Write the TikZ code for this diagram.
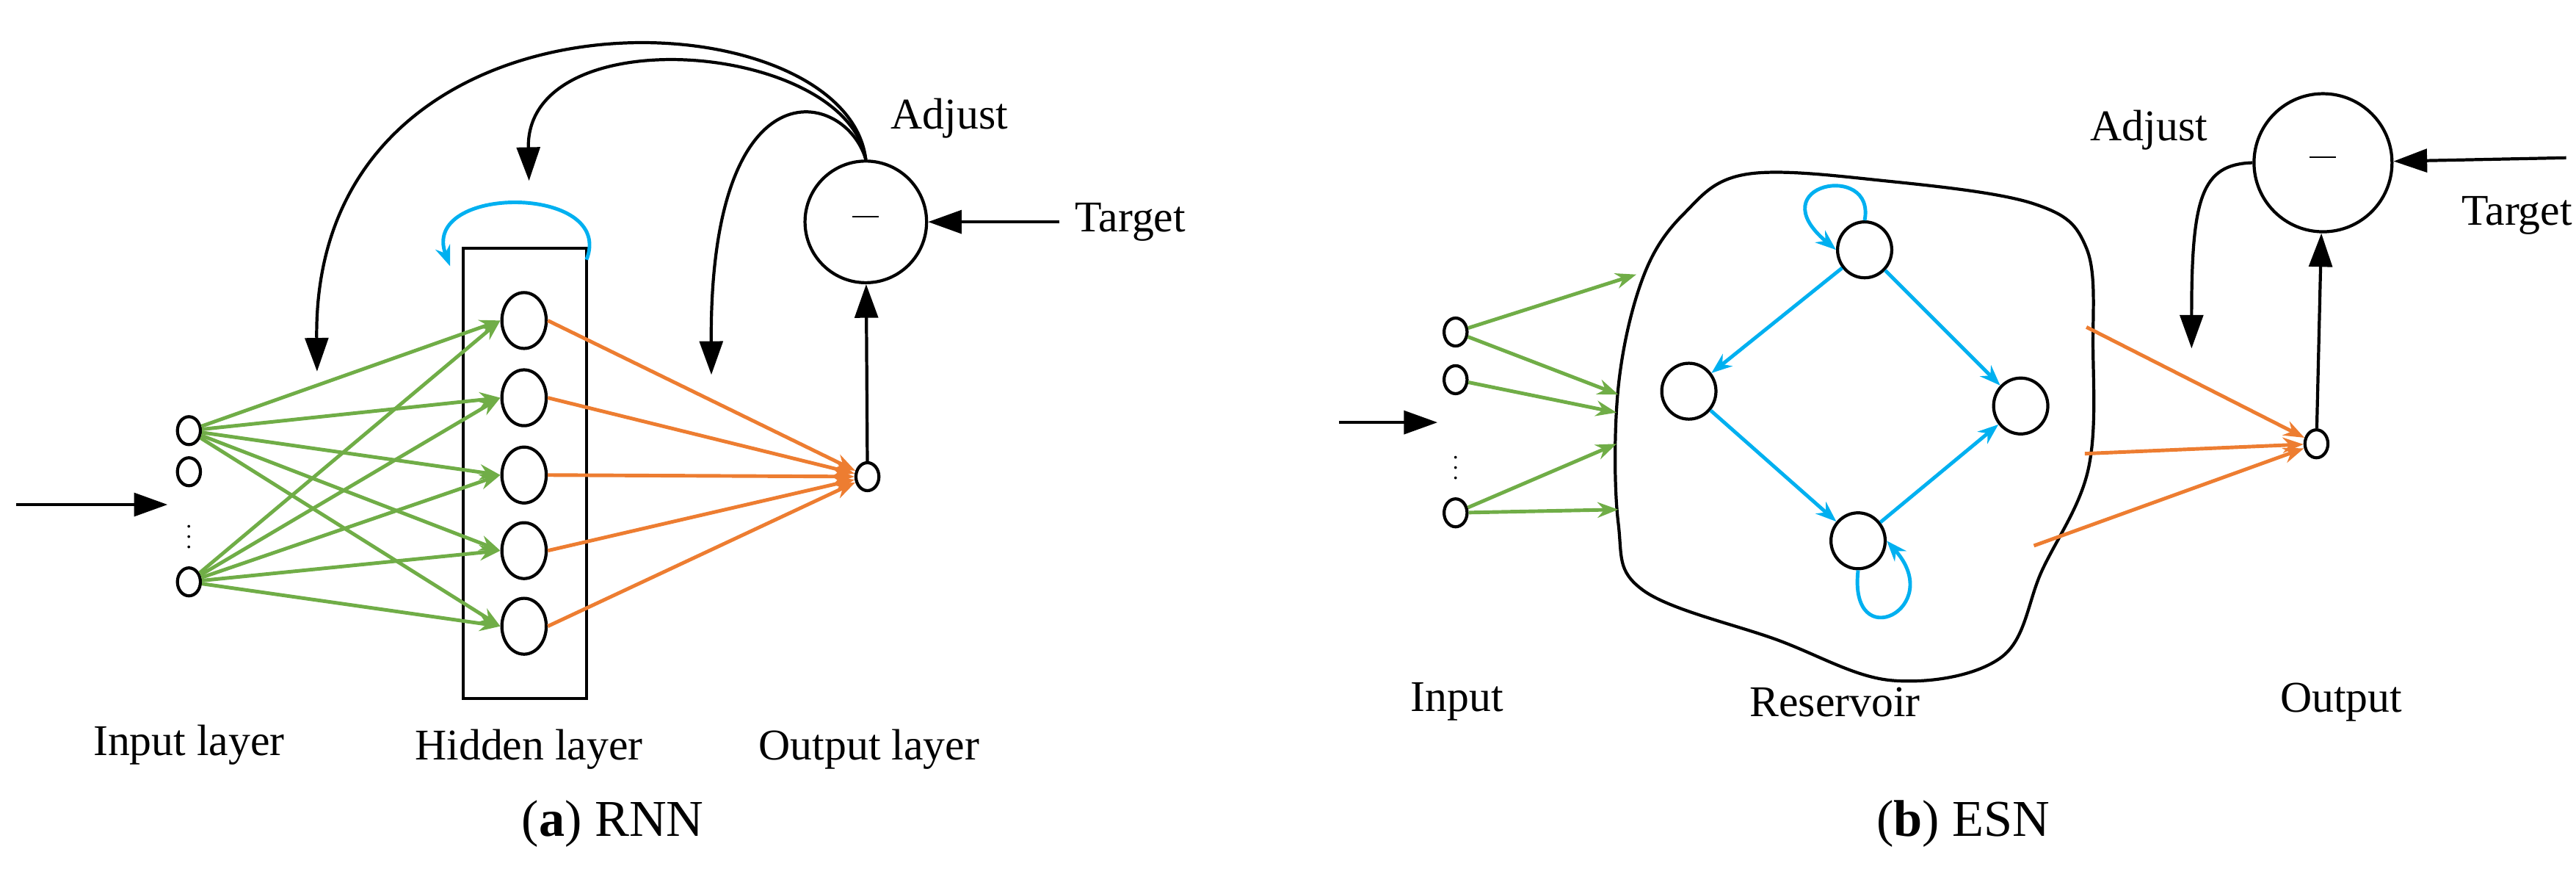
\documentclass[tikz,border=0pt]{standalone}
\usepackage{fontspec}
\setmainfont{Liberation Serif}
\usetikzlibrary{arrows.meta,shapes.geometric}
\def\u{0.02238cm}
\definecolor{gr}{RGB}{112,173,71}
\definecolor{orr}{RGB}{237,125,49}
\definecolor{bl}{RGB}{0,176,240}
\tikzset{
 sn/.style={ellipse,draw,line width=1.2pt,inner sep=0,minimum width=14*\u,minimum height=17*\u},
 hn/.style={ellipse,draw,line width=1.2pt,inner sep=0,minimum width=27*\u,minimum height=34*\u},
 mn/.style={circle,draw,line width=1.2pt,inner sep=0,minimum size=#1*\u,font=\fontsize{17}{20}\selectfont},
 lab/.style={font=\fontsize{17}{20}\selectfont},
 captxt/.style={font=\fontsize{20}{24}\selectfont},
 dts/.style={inner sep=0,font=\fontsize{9}{9}\selectfont},
 ga/.style={gr,line width=1.4pt,-{Stealth[length=8pt,width=6pt]}},
 oa/.style={orr,line width=1.4pt,-{Stealth[length=8pt,width=6pt]}},
 ba/.style={bl,line width=1.4pt,-{Stealth[length=8pt,width=6pt]}},
 ka/.style={black,line width=1.2pt,-{Triangle[length=13pt,width=9pt]}},
}
\begin{document}
\begin{tikzpicture}[x=\u,y=-\u]
\useasboundingbox (0,0) rectangle (1568,540);
% ---------- (a) RNN
\node[sn] (i1) at (115,262) {};
\node[sn] (i2) at (115,287) {};
\node[dts] (d1) at (115,322) {$\vdots$};
\node[sn] (i4) at (115,354) {};
\coordinate (ain) at (10,307);
\coordinate (aine) at (102,307);
\draw[ka] (ain) -- (aine);
\node[draw,line width=1.2pt,minimum width=75*\u,minimum height=274*\u,inner sep=0] (box) at (319.5,288) {};
\foreach \k/\y in {1/195,2/242,3/289,4/335,5/381}{\node[hn] (h\k) at (319,\y) {};}
\node[sn] (o) at (528,290) {};
\foreach \k in {1,...,5}{\draw[ga] (i1) -- (h\k.west); \draw[ga] (i4) -- (h\k.west); \draw[oa] (h\k.east) -- (o);}
\coordinate (lb1) at (357,158);
\coordinate (lb2) at (274,162);
\draw[ba] (lb1) .. controls (375,112) and (255,112) .. (lb2);
\node[mn=74] (m) at (527,135) {\rule[0.25em]{0.6em}{0.6pt}};
\draw[ka] (o) -- (m);
\coordinate (tg) at (645,135);
\draw[ka] (tg) -- (m);
\node[lab] at (688,135) {Target};
\node[lab] at (578,72) {Adjust};
\coordinate (f1) at (193,226);
\coordinate (f2) at (322,110);
\coordinate (f3) at (433,228);
\draw[ka] (m.north) .. controls (515,-5) and (190,-20) .. (f1);
\draw[ka] (m.north) .. controls (515,25) and (320,10) .. (f2);
\draw[ka] (m.north) .. controls (515,55) and (432,35) .. (f3);
\node[lab] at (115,453) {Input layer};
\node[lab] at (322,456) {Hidden layer};
\node[lab] at (529,456) {Output layer};
\node[captxt] at (373,501) {(\textbf{a}) RNN};
% ---------- (b) ESN
\draw[line width=1.2pt] plot[smooth cycle,tension=0.6] coordinates {(1063,106) (1147,110) (1238,124) (1270,151) (1274,211) (1271,286) (1243,347) (1218,400) (1152,414) (1081,389) (1000,359) (985,318) (985,236) (1000,169) (1025,130)};
\node[sn] (j1) at (886,202) {};
\node[sn] (j2) at (886,231) {};
\node[dts] (d2) at (886,280) {$\vdots$};
\node[sn] (j4) at (886,312) {};
\coordinate (bin) at (815,257);
\coordinate (bine) at (875,257);
\draw[ka] (bin) -- (bine);
\coordinate (e1) at (996,167);
\coordinate (e2) at (985,240);
\coordinate (e3) at (984,251);
\coordinate (e4) at (984,270);
\coordinate (e5) at (985,310);
\draw[ga] (j1) -- (e1); \draw[ga] (j1) -- (e2); \draw[ga] (j2) -- (e3);
\draw[ga] (j4) -- (e4); \draw[ga] (j4) -- (e5);
\node[hn,minimum width=33*\u] (rt) at (1135,152) {};
\node[hn,minimum width=33*\u] (rl) at (1028,238) {};
\node[hn,minimum width=33*\u] (rr) at (1230,247) {};
\node[hn,minimum width=33*\u] (rb) at (1131,329) {};
\draw[ba] (rt) -- (rl); \draw[ba] (rt) -- (rr); \draw[ba] (rl) -- (rb); \draw[ba] (rb) -- (rr);
\draw[ba] (rt.north) .. controls (1142,98) and (1070,112) .. (rt.west);
\draw[ba] (rb.south) .. controls (1125,400) and (1185,370) .. (rb.east);
\node[sn] (p) at (1410,270) {};
\coordinate (q1) at (1270,199);
\coordinate (q2) at (1269,276);
\coordinate (q3) at (1238,332);
\draw[oa] (q1) -- (p); \draw[oa] (q2) -- (p); \draw[oa] (q3) -- (p);
\node[mn=84] (m2) at (1414,99) {\rule[0.25em]{0.6em}{0.6pt}};
\draw[ka] (p) -- (m2);
\coordinate (tg2) at (1562,96);
\draw[ka] (tg2) -- (m2);
\node[lab] at (1532,131) {Target};
\node[lab] at (1308,79) {Adjust};
\coordinate (ad) at (1334,212);
\draw[ka] (m2.west) .. controls (1340,100) and (1334,120) .. (ad);
\node[lab] at (887,427) {Input};
\node[lab] at (1117,427) {Reservoir};
\node[lab] at (1425,427) {Output};
\node[captxt] at (1195,501) {(\textbf{b}) ESN};
\end{tikzpicture}
\end{document}
